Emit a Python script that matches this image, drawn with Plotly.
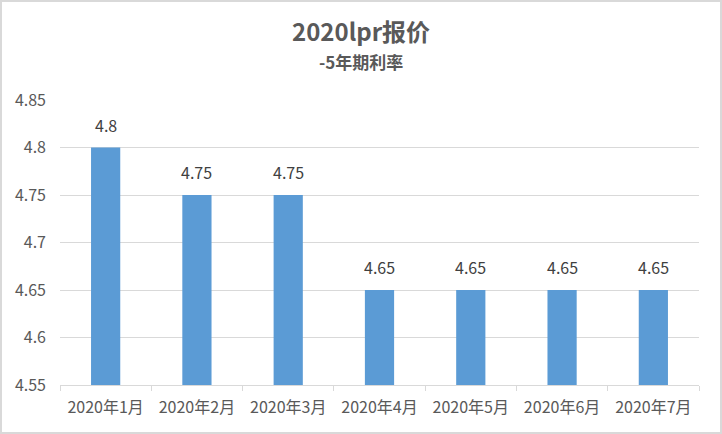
import plotly.graph_objects as go

categories = ["2020年1月", "2020年2月", "2020年3月", "2020年4月", "2020年5月", "2020年6月", "2020年7月"]
values = [4.8, 4.75, 4.75, 4.65, 4.65, 4.65, 4.65]
y_ticks = [4.55, 4.6, 4.65, 4.7, 4.75, 4.8, 4.85]
y_tick_text = ["4.55", "4.6", "4.65", "4.7", "4.75", "4.8", "4.85"]
title_text = "2020lpr报价"
subtitle_text = "-5年期利率"
BASE = 4.55

FONT = "Noto Sans CJK SC, Noto Sans, sans-serif"
PH = 285.0  # plot height in px
PW = 639.0

fig = go.Figure()
fig.add_trace(go.Bar(
    x=categories, y=[v - BASE for v in values], base=BASE,
    marker=dict(color="#5B9BD5", line=dict(width=0)),
    width=0.32, hoverinfo="skip",
))
for c, v in zip(categories, values):
    fig.add_annotation(
        x=c, y=v, text=f"{v:g}", showarrow=False, yanchor="bottom", yshift=9,
        font=dict(size=16, color="#404040", family=FONT),
    )

fig.add_annotation(
    xref="paper", yref="paper", x=0.5 - 18.5 / PW, y=1 + (100 - 31) / PH,
    text=f"<b>{title_text}</b>", showarrow=False, xanchor="center", yanchor="middle",
    font=dict(size=24, color="#595959", family=FONT), borderpad=0,
)
fig.add_annotation(
    xref="paper", yref="paper", x=0.5 - 18.5 / PW, y=1 + (100 - 61) / PH,
    text=f"<b>{subtitle_text}</b>", showarrow=False, xanchor="center", yanchor="middle",
    font=dict(size=17, color="#595959", family=FONT), borderpad=0,
)

fig.update_layout(
    width=722, height=434,
    margin=dict(l=60, r=23, t=100, b=49),
    paper_bgcolor="white", plot_bgcolor="white",
    showlegend=False,
    font=dict(family=FONT, color="#595959", size=16),
    xaxis=dict(
        showgrid=False, showline=True, linecolor="#D9D9D9", linewidth=1,
        ticks="outside", tickson="boundaries", ticklen=5, tickcolor="#D9D9D9",
        tickfont=dict(size=16, color="#595959"), ticklabelstandoff=8,
    ),
    yaxis=dict(
        range=[4.55, 4.85], tickvals=y_ticks, ticktext=y_tick_text,
        showgrid=True, gridcolor="#D9D9D9", gridwidth=1,
        zeroline=False, showline=False, ticks="", ticklabelstandoff=13,
        tickfont=dict(size=16, color="#595959"),
    ),
    shapes=[dict(
        type="rect", xref="paper", yref="paper",
        x0=-60/PW + 1/PW, x1=1 + 22/PW, y0=-48/PH, y1=1 + 99/PH,
        line=dict(color="#D9D9D9", width=2), fillcolor="rgba(0,0,0,0)", layer="below",
    )],
)

fig.write_html("out.html")
